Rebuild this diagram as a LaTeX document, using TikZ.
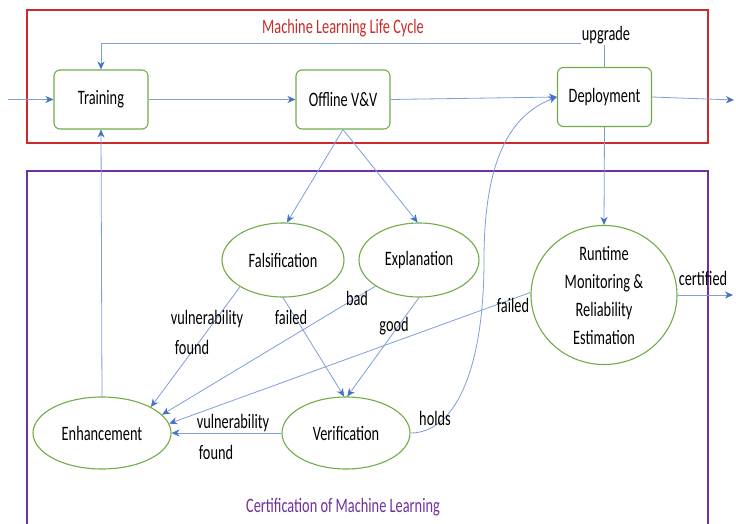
\documentclass[tikz,border=0pt]{standalone}
\usepackage{fontspec}
\setmainfont[FakeStretch=0.7]{Carlito}
\usetikzlibrary{arrows.meta,shapes.geometric}

\definecolor{nodegreen}{HTML}{70AD47}
\definecolor{flowline}{HTML}{7F9EDB}
\definecolor{flowtip}{HTML}{4472C4}
\definecolor{cyclered}{HTML}{CC2B2B}
\definecolor{certpurple}{HTML}{7030A0}

\tikzset{
  stagebox/.style={draw=nodegreen, line width=1.1pt, rounded corners=6pt,
    minimum width=94pt, minimum height=59pt, inner sep=0pt, fill=white},
  activity/.style={ellipse, draw=nodegreen, line width=1.1pt, inner sep=0pt,
    align=center, fill=white},
  flow/.style={draw=flowline, line width=0.8pt,
    -{Stealth[length=8pt,width=7pt,inset=2.5pt,color=flowtip]}},
  lbl/.style={inner sep=1pt},
}

\begin{document}
\begin{tikzpicture}[x=1pt,y=-1pt,font=\fontsize{20.5}{28}\selectfont]
\useasboundingbox[fill=white] (0,0) rectangle (736,524);

% frames of the two areas
\draw[cyclered, line width=1.1pt] (27,10) rectangle (708,143);
\node[text=cyclered] (cycletitle) at (343,28) {Machine Learning Life Cycle};
\draw[certpurple, line width=1.1pt] (27,524) -- (27,171) -- (708,171) -- (708,524);
\node[text=certpurple] (certtitle) at (343,507) {Certification of Machine Learning};

% life cycle stages
\node[stagebox] (train)  at (101,99.5) {Training};
\node[stagebox] (vv)     at (343,99.5) {Offline V\&V};
\node[stagebox] (deploy) at (604.5,97) {Deployment};

% certification activities
\node[activity, minimum width=122pt, minimum height=74pt] (fals) at (283,260) {Falsification};
\node[activity, minimum width=120pt, minimum height=74pt] (expl) at (419,260) {Explanation};
\node[activity, minimum width=146pt, minimum height=132pt] (rt) at (604,295)
  {Runtime\\Monitoring \&\\Reliability\\Estimation};
\node[activity, minimum width=138pt, minimum height=72pt] (enh) at (102,433) {Enhancement};
\node[activity, minimum width=128pt, minimum height=72pt] (ver) at (346,433) {Verification};

% free ends and the corner of the upgrade loop
\coordinate (inlet)  at (8,99.5);
\coordinate (outlet) at (734,100);
\coordinate (certout) at (733,295);
\coordinate (upcorner) at (604.5,43);

% main cycle
\draw[flow] (inlet) -- (train.west);
\draw[flow] (train.east) -- (vv.west);
\draw[flow] (vv.east) -- (deploy.west);
\draw[flow] (deploy.east) -- (outlet);
\draw[flow] (deploy.north) -- (upcorner) -| (train.north);
\node[fill=white, lbl] (upg) at (606,35) {upgrade};

% offline V&V into the certification activities
\draw[flow] (vv.south) -- (fals.84);
\draw[flow] (vv.south) -- (expl.92);
\draw[flow] (deploy.south) -- (rt.north);

% falsification and explanation outcomes
\draw[flow] (fals.212) -- (enh.28);
\draw[flow] (fals.south) -- (ver.93);
\draw[flow] (expl.211) -- (enh.17);
\draw[flow] (expl.south) -- (ver.88);
\draw[flow] (rt.178) -- (enh.8);
\draw[flow] (ver.west) -- (enh.east);
\draw[flow] (enh.north) -- (train.south);
\draw[flow] (rt.east) -- (certout);
\draw[flow] (ver.east) .. controls (455,433) and (484,370) .. (484,260)
  .. controls (484,160) and (510,115) .. (deploy.west);

% edge labels
\node[lbl] at (207,319) {vulnerability};
\node[lbl] at (192,347) {found};
\node[lbl] at (291,317) {failed};
\node[lbl] at (357,298) {bad};
\node[lbl] at (394,326) {good};
\node[lbl] at (513,305) {failed};
\node[lbl] at (233,423) {vulnerability};
\node[lbl] at (216,452) {found};
\node[lbl] at (435,418) {holds};
\node[lbl] at (703,278) {certified};
\end{tikzpicture}
\end{document}
